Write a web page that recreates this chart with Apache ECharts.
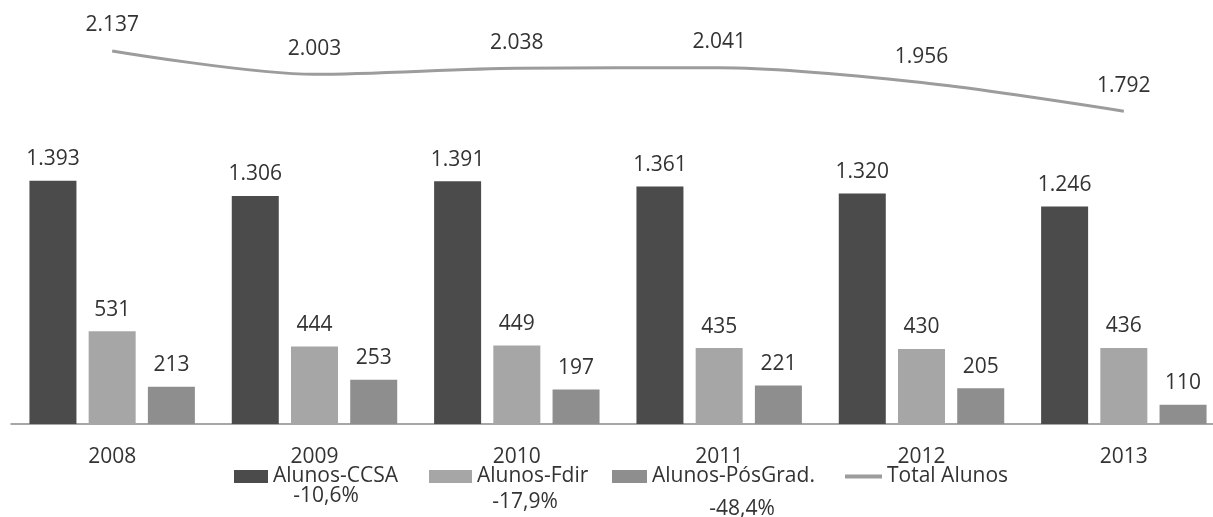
<!DOCTYPE html>
<html>
<head>
<meta charset="utf-8">
<script src="https://cdn.jsdelivr.net/npm/echarts@6/dist/echarts.min.js"></script>
<style>
  html, body { margin: 0; padding: 0; background: #fff; overflow: hidden; }
  #chart { width: 1213px; height: 517px; }
</style>
</head>
<body>
<div id="chart"></div>
<script>
// Student counts per year
const years = ['2008', '2009', '2010', '2011', '2012', '2013'];
const alunosCCSA = [1393, 1306, 1391, 1361, 1320, 1246];
const alunosFdir = [531, 444, 449, 435, 430, 436];
const alunosPosGrad = [213, 253, 197, 221, 205, 110];
const totalAlunos = [2137, 2003, 2038, 2041, 1956, 1792];

// Variation 2008 -> 2013 shown under each bar legend entry
const variacoes = ['-10,6%', '-17,9%', '-48,4%'];

const seriesNames = ['Alunos-CCSA', 'Alunos-Fdir', 'Alunos-PósGrad.', 'Total Alunos'];

const textColor = '#333333';
const fontFamily = '"Open Sans", "Noto Sans", sans-serif';
const fontSize = 21;

// Portuguese thousands separator: 1393 -> "1.393"
const fmt = v => String(v).replace(/\B(?=(\d{3})+(?!\d))/g, '.');

const labelStyle = {
  show: true,
  position: 'top',
  distance: 11,
  fontSize: fontSize,
  fontFamily: fontFamily,
  color: textColor,
  formatter: p => fmt(p.value)
};

const chart = echarts.init(document.getElementById('chart'), null, { renderer: 'canvas' });

function legendAt(name, left, itemWidth, itemHeight) {
  return {
    data: [name],
    left: left,
    top: 466,
    padding: 0,
    itemWidth: itemWidth,
    itemHeight: itemHeight,
    icon: 'rect',
    selectedMode: false,
    textStyle: { fontSize: fontSize, fontFamily: fontFamily, color: textColor }
  };
}

const percentPos = [[326, 496], [525, 502], [742, 509]];

const option = {
  animation: false,
  backgroundColor: '#ffffff',
  grid: { left: 11, right: -12, top: 5, bottom: 93, outerBoundsMode: 'none', containLabel: false },
  legend: [
    legendAt(seriesNames[0], 234, 34, 13),
    legendAt(seriesNames[1], 429, 43, 13),
    legendAt(seriesNames[2], 612, 35, 13),
    legendAt(seriesNames[3], 845, 37, 4)
  ],
  xAxis: {
    type: 'category',
    data: years,
    axisLine: { show: true, lineStyle: { color: '#8a8a8a', width: 1.5 } },
    axisTick: { show: false },
    axisLabel: { margin: 23, fontSize: fontSize, fontFamily: fontFamily, color: textColor }
  },
  yAxis: {
    type: 'value',
    min: 0,
    max: 2400,
    show: false,
    splitLine: { show: false }
  },
  series: [
    {
      name: seriesNames[0], type: 'bar', data: alunosCCSA,
      barWidth: 47, barGap: '26%',
      itemStyle: { color: '#4b4b4b' },
      label: labelStyle
    },
    {
      name: seriesNames[1], type: 'bar', data: alunosFdir,
      barWidth: 47, barGap: '26%',
      itemStyle: { color: '#a6a6a6' },
      label: labelStyle
    },
    {
      name: seriesNames[2], type: 'bar', data: alunosPosGrad,
      barWidth: 47, barGap: '26%',
      itemStyle: { color: '#8e8e8e' },
      label: labelStyle
    },
    {
      name: seriesNames[3], type: 'line', data: totalAlunos,
      smooth: 0.3,
      symbol: 'circle',
      symbolSize: 0.01,
      showSymbol: true,
      itemStyle: { color: '#9c9c9c' },
      lineStyle: { color: '#9c9c9c', width: 3 },
      label: Object.assign({}, labelStyle, { distance: 15 }),
      z: 5
    }
  ],
  graphic: variacoes.map((t, i) => ({
    type: 'text',
    x: percentPos[i][0],
    y: percentPos[i][1],
    style: {
      text: t,
      fontSize: fontSize,
      fontFamily: fontFamily,
      fill: textColor,
      align: 'center',
      verticalAlign: 'middle'
    }
  }))
};

chart.setOption(option);
</script>
</body>
</html>
